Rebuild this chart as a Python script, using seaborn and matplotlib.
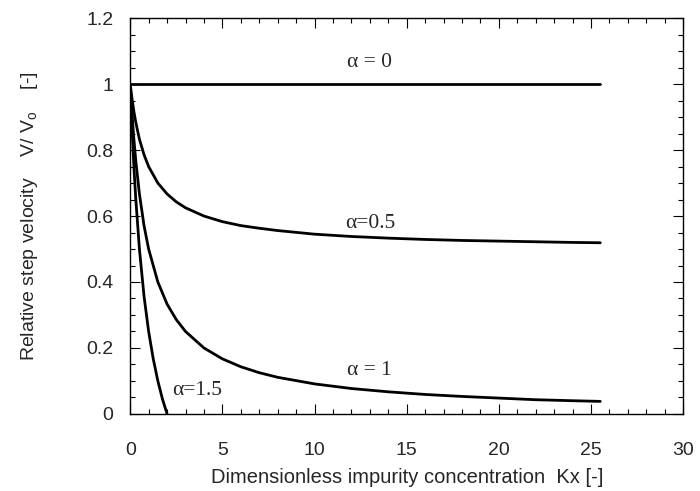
import pandas as pd
import numpy as np
import matplotlib
matplotlib.use("Agg")
import matplotlib.pyplot as plt
import matplotlib.ticker as mticker
import seaborn as sns

# Valores (Kx, V/V0) para cada alpha
kx = [0, 0.1, 0.2, 0.3, 0.5, 0.75, 1, 1.5, 2, 2.5, 3, 4, 5, 6, 7, 8,
      10, 12, 14, 16, 18, 20, 22, 24, 25.5]
v_a0 = [1.0] * len(kx)
v_a05 = [1.0, 0.955, 0.917, 0.885, 0.833, 0.786, 0.75, 0.70, 0.667, 0.643,
         0.625, 0.60, 0.583, 0.571, 0.563, 0.556, 0.545, 0.538, 0.533,
         0.529, 0.526, 0.524, 0.522, 0.52, 0.519]
v_a1 = [1.0, 0.909, 0.833, 0.769, 0.667, 0.571, 0.50, 0.40, 0.333, 0.286,
        0.25, 0.20, 0.167, 0.143, 0.125, 0.111, 0.091, 0.077, 0.067,
        0.059, 0.053, 0.048, 0.043, 0.040, 0.038]
kx_a15 = [0, 0.1, 0.2, 0.3, 0.5, 0.75, 1, 1.25, 1.5, 1.75, 2.0]
v_a15 = [1.0, 0.864, 0.75, 0.654, 0.50, 0.357, 0.25, 0.167, 0.10, 0.045, 0.0]

df = pd.concat([
    pd.DataFrame({"Kx": kx, "V": v_a0, "alpha": "0"}),
    pd.DataFrame({"Kx": kx, "V": v_a05, "alpha": "0.5"}),
    pd.DataFrame({"Kx": kx, "V": v_a1, "alpha": "1"}),
    pd.DataFrame({"Kx": kx_a15, "V": v_a15, "alpha": "1.5"}),
])

sns.set_theme(style="ticks")
plt.rcParams["font.family"] = ["Liberation Sans", "DejaVu Sans"]

fig = plt.figure(figsize=(7, 4.91), dpi=100)
ax = fig.add_axes([0.186, 0.157, 0.79, 0.806])

for a in ["0", "0.5", "1", "1.5"]:
    sns.lineplot(data=df[df["alpha"] == a], x="Kx", y="V", color="black",
                 linewidth=2, ax=ax, sort=False, estimator=None)

ax.set_xlim(0, 30)
ax.set_ylim(0, 1.2)
ax.xaxis.set_major_locator(mticker.MultipleLocator(5))
ax.xaxis.set_minor_locator(mticker.MultipleLocator(1))
ax.yaxis.set_major_locator(mticker.MultipleLocator(0.2))
ax.yaxis.set_minor_locator(mticker.MultipleLocator(0.05))
ax.yaxis.set_major_formatter(mticker.FuncFormatter(lambda v, p: "%g" % round(v, 2)))
ax.tick_params(which="both", direction="in", top=True, right=True, color="black")
ax.tick_params(which="major", length=7, width=0.8, labelsize=14)
ax.tick_params(axis="x", which="major", pad=20)
ax.tick_params(axis="y", which="major", pad=12)
ax.tick_params(which="minor", length=3.5, width=0.8)
for s in ax.spines.values():
    s.set_color("black")
    s.set_linewidth(1.0)

ax.set_xlabel("Dimensionless impurity concentration  Kx [-]", fontsize=14.5, labelpad=7)
ax.set_ylabel("Relative step velocity    V/ V$_\\mathregular{o}$    [-]", fontsize=14, labelpad=33)

serif = ["Liberation Serif", "DejaVu Serif"]
ax.text(11.75, 1.052, "α = 0", fontsize=15.5, family=serif)
ax.text(11.65, 0.564, "α=0.5", fontsize=15.5, family=serif)
ax.text(11.75, 0.118, "α = 1", fontsize=15.5, family=serif)
ax.text(2.28, 0.058, "α=1.5", fontsize=15.5, family=serif)

fig.savefig("out.png", dpi=100)
